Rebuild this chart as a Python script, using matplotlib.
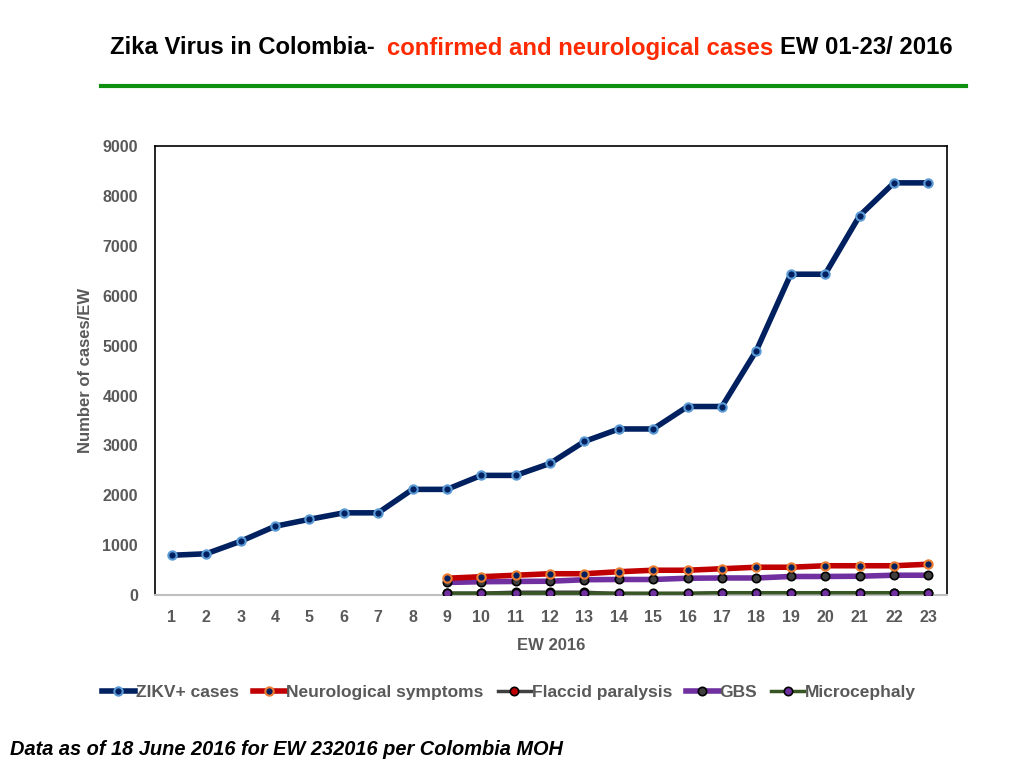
import numpy as np
import matplotlib.pyplot as plt
from matplotlib.lines import Line2D

weeks = list(range(1, 24))
later_weeks = list(range(9, 24))

zikv = [800, 830, 1080, 1380, 1520, 1650, 1650, 2120, 2120, 2400, 2400, 2640,
        3080, 3330, 3330, 3780, 3780, 4900, 6430, 6430, 7600, 8260, 8260]
neuro = [340, 370, 400, 430, 430, 470, 500, 500, 530, 560, 560, 590, 590, 590, 620]
flaccid = [40, 40, 60, 60, 60, 30, 30, 30, 45, 45, 45, 45, 45, 45, 45]
gbs = [255, 270, 275, 280, 310, 315, 315, 340, 345, 345, 375, 375, 380, 400, 400]
micro = [40, 40, 40, 40, 40, 40, 40, 40, 50, 50, 50, 50, 50, 50, 50]

plt.rcParams['font.family'] = ['Liberation Sans', 'DejaVu Sans']

fig = plt.figure(figsize=(10.24, 7.68), dpi=100)
ax = fig.add_axes([0.151, 0.225, 0.774, 0.585])

grey = '#595959'
ax.plot(weeks, zikv, color='#002060', lw=4, marker='o', ms=6,
        mfc='#002060', mec='#5b9bd5', mew=1.5, label='ZIKV+ cases', zorder=5)
ax.plot(later_weeks, neuro, color='#c00000', lw=4, marker='o', ms=6,
        mfc='#002060', mec='#ed7d31', mew=1.5, label='Neurological symptoms', zorder=4)
ax.plot(later_weeks, flaccid, color='#404040', lw=2.5, marker='o', ms=6,
        mfc='#c00000', mec='black', mew=1.2, label='Flaccid paralysis', zorder=2)
ax.plot(later_weeks, gbs, color='#7030a0', lw=4, marker='o', ms=6,
        mfc='#404040', mec='black', mew=1.2, label='GBS', zorder=3)
ax.plot(later_weeks, micro, color='#375623', lw=2.5, marker='o', ms=6,
        mfc='#7030a0', mec='black', mew=1.2, label='Microcephaly', zorder=3)

ax.set_xlim(0.5, 23.55)
ax.set_ylim(0, 9000)
ax.set_xticks(weeks)
ax.set_yticks(np.arange(0, 9001, 1000))
ax.tick_params(axis='x', length=0, labelsize=11.5, labelcolor=grey, pad=11)
ax.tick_params(axis='y', length=0, labelsize=11.5, labelcolor=grey, pad=12)
for lbl in ax.get_xticklabels() + ax.get_yticklabels():
    lbl.set_fontweight('bold')
for s in ['left', 'right', 'top']:
    ax.spines[s].set_color('black')
    ax.spines[s].set_linewidth(1.2)
ax.spines['bottom'].set_color('#bfbfbf')
ax.spines['bottom'].set_linewidth(1.5)

ax.set_xlabel('EW 2016', fontsize=12, fontweight='bold', color=grey, labelpad=9)
ax.set_ylabel('Number of cases/EW', fontsize=12, fontweight='bold', color=grey, labelpad=7)

leg = fig.legend(loc='center', bbox_to_anchor=(0.497, 0.098), ncol=5, frameon=False,
                 fontsize=12.5, handlelength=1.9, handletextpad=0.05, columnspacing=0.8)
for t in leg.get_texts():
    t.set_color(grey)
    t.set_fontweight('bold')

# title in two colours, placed piece after piece
pieces = [('Zika Virus in Colombia-', 'black', 0.0),
          ('confirmed and neurological cases', '#ff2a00', 12),
          ('EW 01-23/ 2016', 'black', 7)]
fig.canvas.draw()
renderer = fig.canvas.get_renderer()
x_px = 110
for txt, col, gap in pieces:
    x_px += gap
    t = fig.text(x_px / 1024, 0.9375, txt, fontsize=17.2, fontweight='bold',
                 color=col, va='center', ha='left')
    x_px += t.get_window_extent(renderer).width
fig.add_artist(Line2D([0.099, 0.943], [0.888, 0.888], color='#109010', lw=3,
                      transform=fig.transFigure))

fig.text(0.010, 0.024, 'Data as of 18 June 2016 for EW 232016 per Colombia MOH',
         fontsize=14.4, fontweight='bold', style='italic', color='black', va='center')

fig.savefig('out.png', dpi=100)
